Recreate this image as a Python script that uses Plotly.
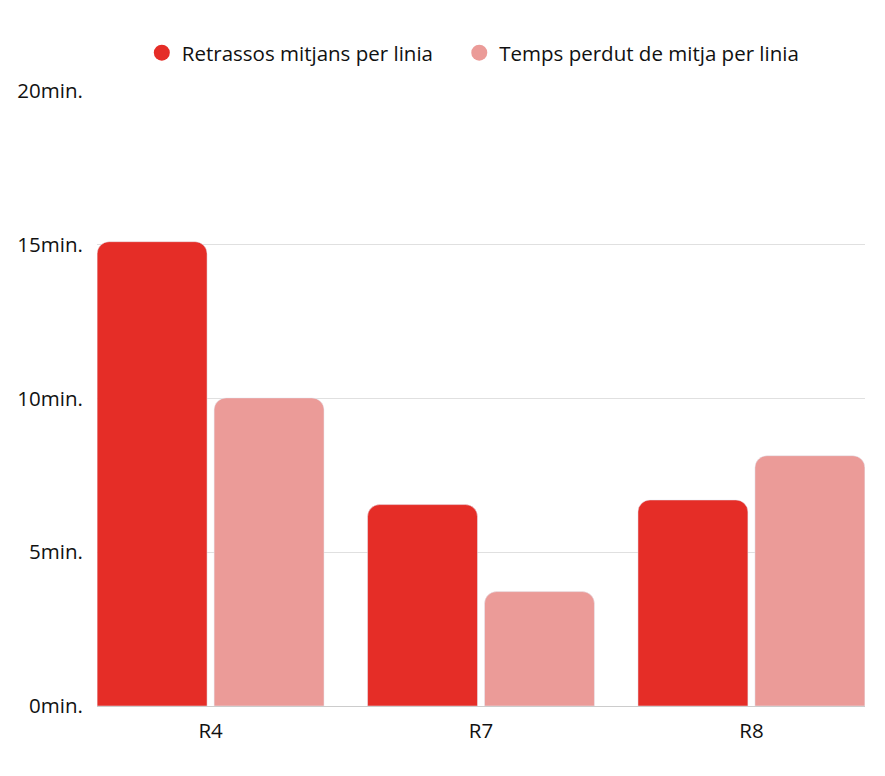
import plotly.graph_objects as go

categories = ["R4", "R7", "R8"]
retrassos = [15.1, 6.55, 6.7]
temps_perdut = [10.02, 3.72, 8.14]
tick_vals = [0, 5, 10, 15, 20]
tick_text = ["0min.", "5min.", "10min.", "15min.", "20min."]
names = ["Retrassos mitjans per linia", "Temps perdut de mitja per linia"]
colors = ["#E52D27", "#EB9B98"]

fig = go.Figure()
for vals, name, col in zip([retrassos, temps_perdut], names, colors):
    fig.add_trace(go.Bar(x=categories, y=vals, name=name, showlegend=False,
                         marker=dict(color=col, cornerradius=12)))
# legend entries with circular markers (extra spacing after the first label)
legend_labels = [names[0] + "\u00a0" * 4, names[1]]
for name, col in zip(legend_labels, colors):
    fig.add_trace(go.Scatter(x=[None], y=[None], mode="markers", name=name,
                             marker=dict(color=col, size=20, symbol="circle")))

fig.update_layout(
    width=885, height=776,
    margin=dict(l=97, r=20, t=91, b=70),
    paper_bgcolor="white", plot_bgcolor="white",
    font=dict(family="Open Sans", size=20.5, color="#111111"),
    barmode="group", bargap=0.135, bargroupgap=0.06,
    showlegend=True,
    legend=dict(orientation="h", x=0.49, xanchor="center", y=1.062, yanchor="middle",
                font=dict(size=20.5), traceorder="normal"),
    xaxis=dict(range=[-0.42, 2.42], showgrid=False, showline=True, linecolor="#cccccc", linewidth=1,
               ticks="outside", ticklen=6, tickcolor="rgba(0,0,0,0)"),
    yaxis=dict(range=[0, 20], tickvals=tick_vals, ticktext=tick_text,
               showgrid=True, gridcolor="#e0e0e0", gridwidth=1, zeroline=False,
               ticks="outside", ticklen=9, tickcolor="rgba(0,0,0,0)"),
)

fig.write_html("out.html")
